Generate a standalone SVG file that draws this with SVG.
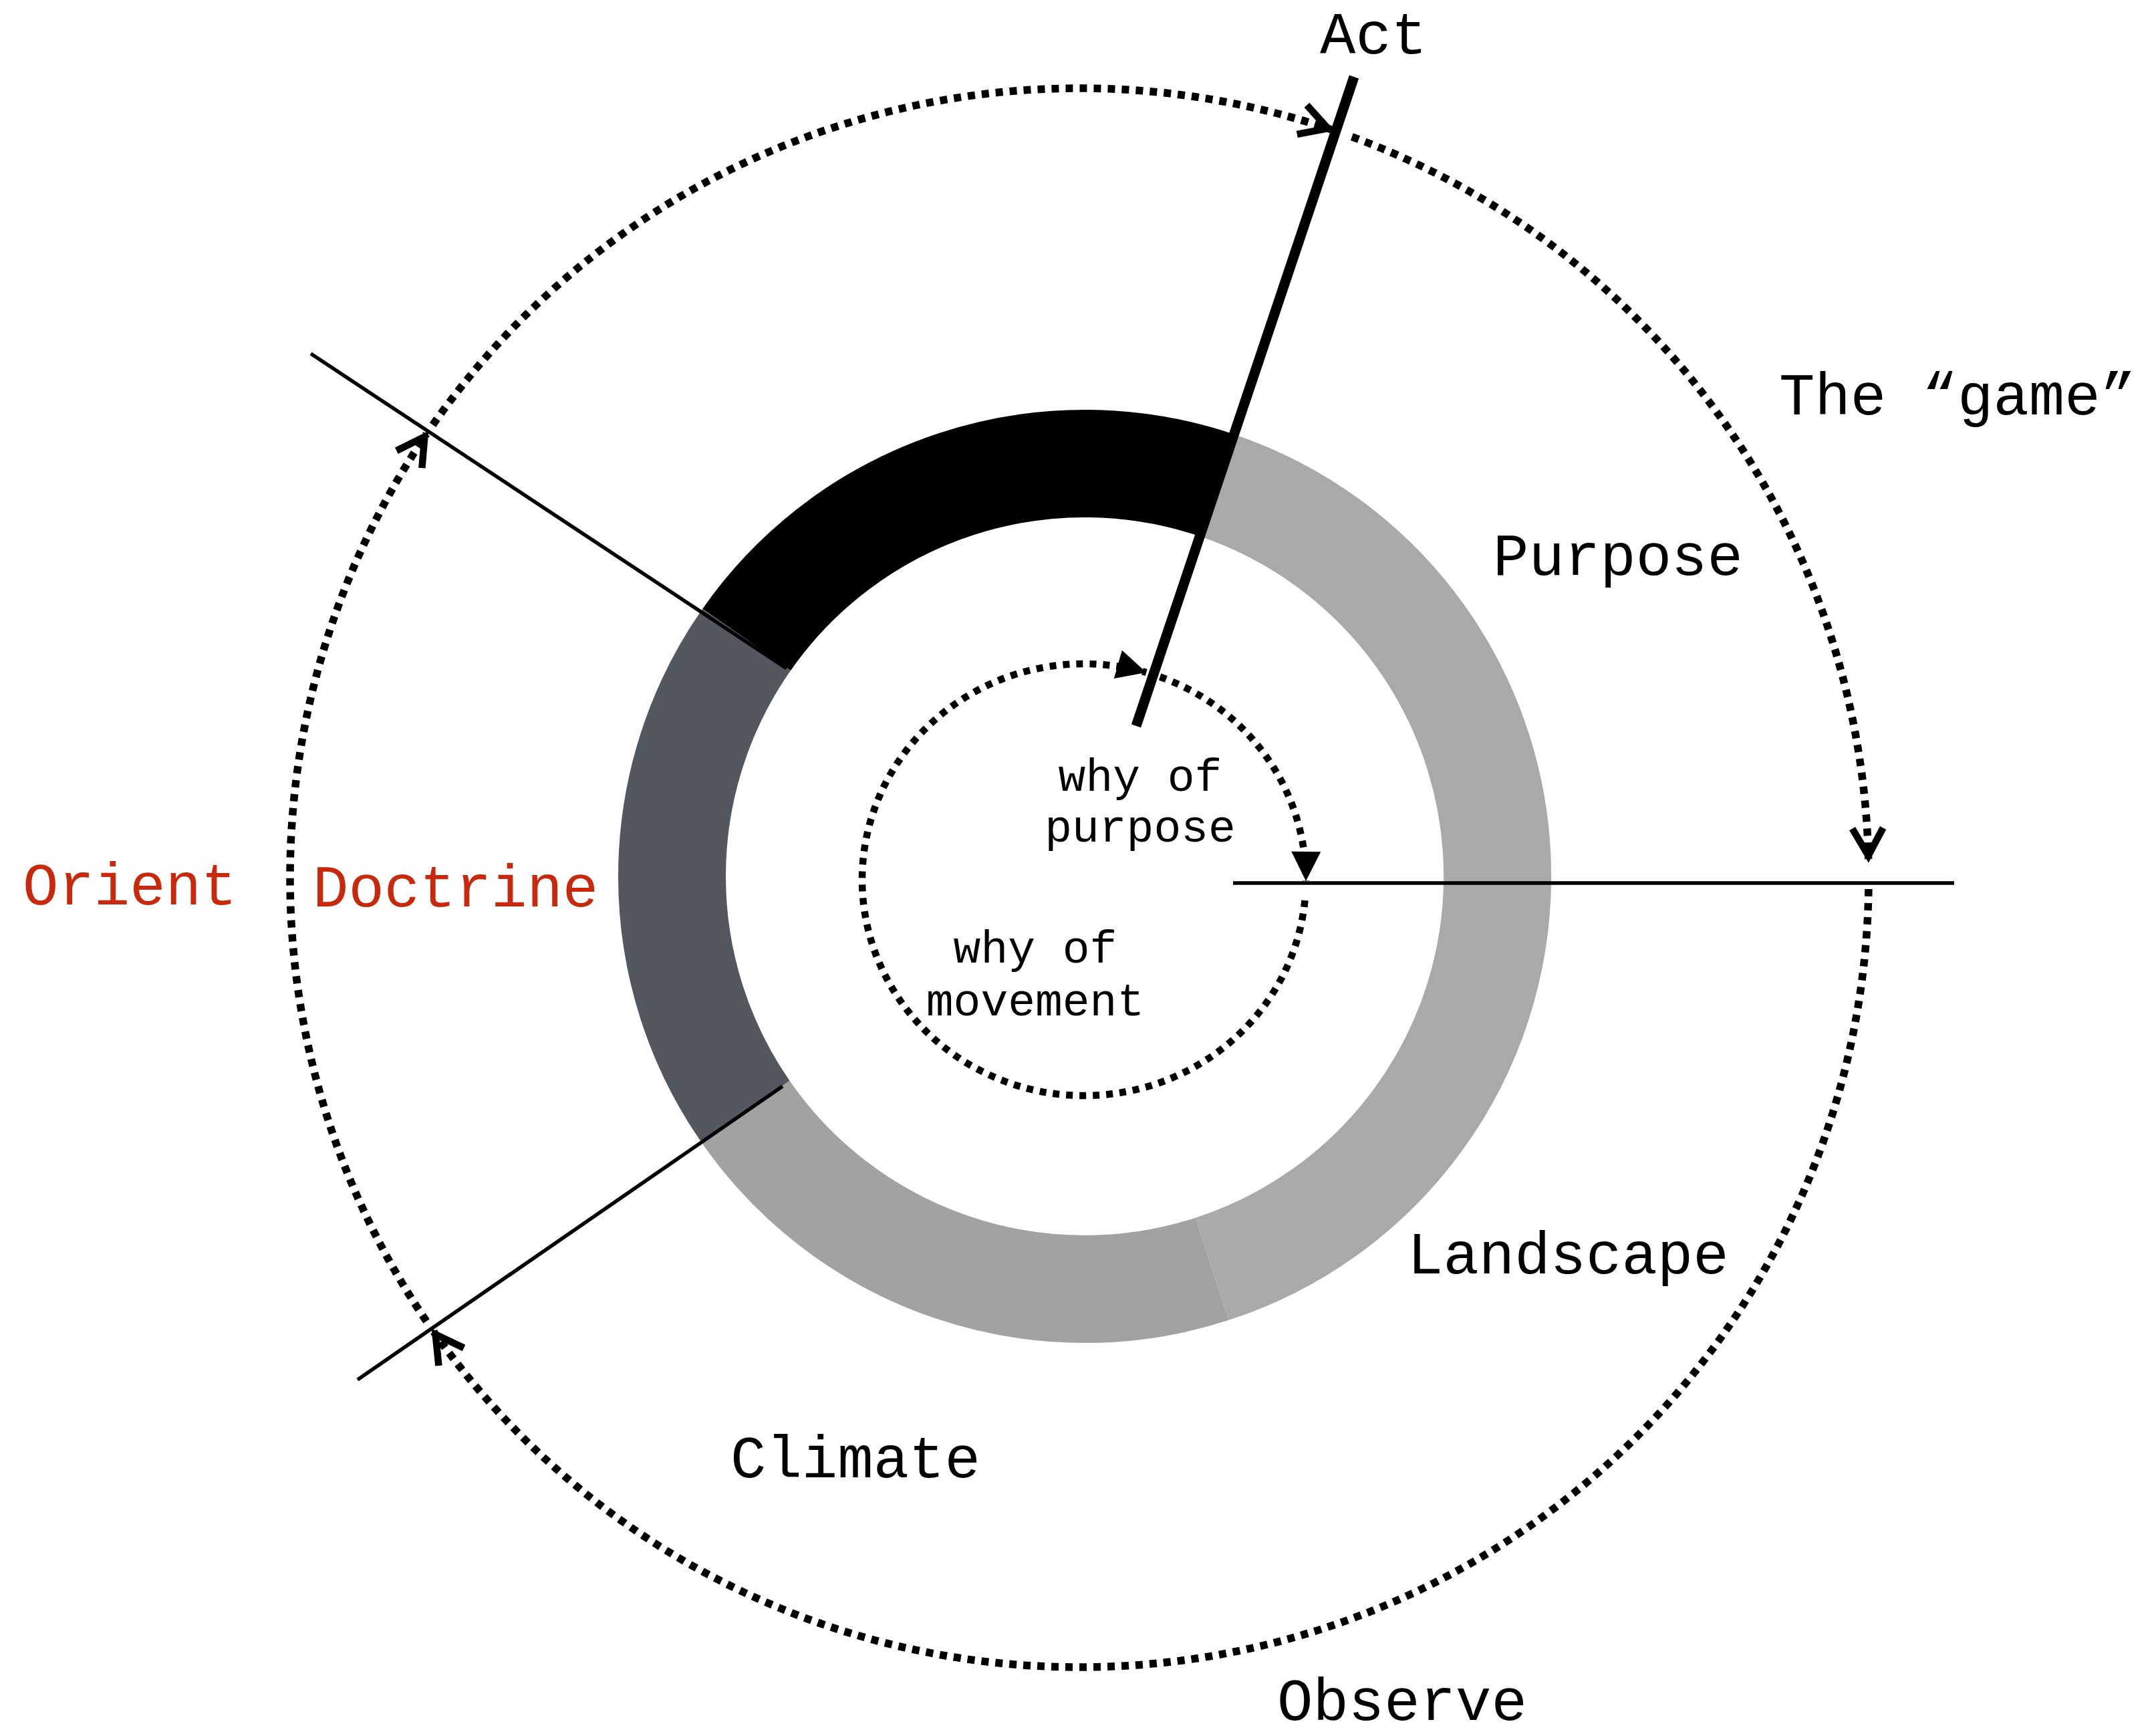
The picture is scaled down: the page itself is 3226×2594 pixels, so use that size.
<svg xmlns="http://www.w3.org/2000/svg" width="3226" height="2594" viewBox="0 0 3226 2594">
<defs>
<style>
.lbl{font-family:"Liberation Mono","Courier New",monospace;font-size:89px;fill:#000}
.red{fill:#c8290c}
.sm{font-family:"Liberation Mono","Courier New",monospace;font-size:68px;fill:#000;text-anchor:middle}
.outer{fill:none;stroke:#000;stroke-width:11.5;stroke-dasharray:11 10;marker-end:url(#vopen)}
.inner{fill:none;stroke:#000;stroke-width:10.5;stroke-dasharray:10 10;marker-end:url(#tri)}
.ring{fill:none;stroke-width:161}
.thin{stroke:#000;stroke-width:5.5;fill:none}
</style>
<marker id="vopen" markerUnits="userSpaceOnUse" markerWidth="70" markerHeight="70" viewBox="-55 -35 70 70" refX="0" refY="0" orient="auto" overflow="visible">
<path d="M-46,-23 L-5,0 L-46,23" fill="none" stroke="#000" stroke-width="10.5"/>
</marker>
<marker id="tri" markerUnits="userSpaceOnUse" markerWidth="70" markerHeight="70" viewBox="-55 -35 70 70" refX="0" refY="0" orient="auto" overflow="visible">
<path d="M-44,-22 L0,0 L-44,22 Z" fill="#000"/>
</marker>
</defs>
<rect x="0" y="0" width="3226" height="2594" fill="#fff"/>

<g id="ring">
<path class="ring" stroke="#000000" d="M1117.2,956.8 A617.5,617.5 0 0 1 1820.0,725.7"/>
<path class="ring" stroke="#a7aaa9" d="M1820.0,725.7 A617.5,617.5 0 0 1 1813.8,1898.3"/>
<path class="ring" stroke="#a0a3a2" d="M1813.8,1898.3 A617.5,617.5 0 0 1 1115.3,1662.5"/>
<path class="ring" stroke="#535760" d="M1115.3,1662.5 A617.5,617.5 0 0 1 1117.2,956.8"/>
</g>

<g id="connectors">
<path class="outer" d="M2022.8,204.6 A1181,1181 0 0 1 2795.7,1285"/>
<path class="outer" d="M2795.9,1330 A1181,1181 0 0 1 648.8,1992.1"/>
<path class="outer" d="M638.1,1976.6 A1181,1181 0 0 1 638.2,649.2"/>
<path class="outer" d="M647.6,635.6 A1181,1181 0 0 1 1991.7,193.7"/>
<path class="inner" d="M1735.6,1012.5 A332,323 0 0 1 1954,1318"/>
<path class="inner" d="M1952.5,1347 A332,323 0 1 1 1715.2,1006.0"/>
<line class="thin" x1="465" y1="529" x2="1177" y2="1000"/>
<line class="thin" x1="535" y1="2064" x2="1171" y2="1625"/>
<line class="thin" x1="1845" y1="1321" x2="2924" y2="1321"/>
<line stroke="#000" stroke-width="15" x1="2026" y1="115" x2="1700" y2="1086"/>
</g>

<g id="labels">
<text id="act" class="lbl" x="1975" y="80">Act</text>
<text id="game" class="lbl" x="2662" y="620">The “game”</text>
<text id="purpose" class="lbl" x="2234" y="860">Purpose</text>
<text id="landscape" class="lbl" x="2106" y="1905">Landscape</text>
<text id="climate" class="lbl" x="1093" y="2210">Climate</text>
<text id="observe" class="lbl" x="1911" y="2573">Observe</text>
<text id="orient" class="lbl red" x="34" y="1353">Orient</text>
<text id="doctrine" class="lbl red" x="468" y="1356">Doctrine</text>
<text id="why-purpose" class="sm"><tspan x="1706" y="1183">why of</tspan><tspan x="1706" y="1259">purpose</tspan></text>
<text id="why-movement" class="sm"><tspan x="1549" y="1440">why of</tspan><tspan x="1549" y="1519">movement</tspan></text>
</g>
</svg>
